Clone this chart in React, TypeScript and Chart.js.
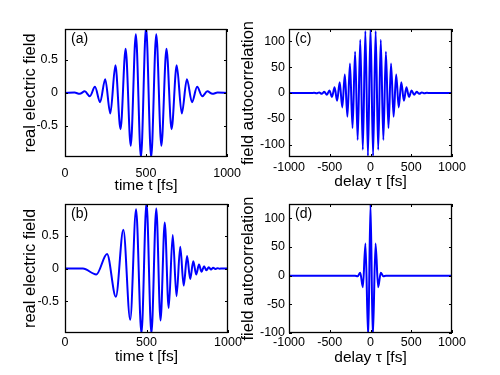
import React, { useEffect, useRef } from "react";
import { Chart, registerables } from "chart.js";

Chart.register(...registerables);
Chart.defaults.font.family = '"Liberation Sans", Arial, Helvetica, sans-serif';
Chart.defaults.color = "#000";

// ---------- data ----------
// (a) real electric field: extrema of the oscillation, time in fs
const timeA = [0, 59, 90.5, 122, 153.5, 185, 216.5, 248, 279.5, 311, 342.5, 374, 405.5, 437, 468.5, 500, 531.5, 563, 594.5, 626, 657.5, 689, 720.5, 752, 783.5, 815, 846.5, 878, 909.5, 941, 1000];
const fieldA = [0, 0.006, -0.012, 0.025, -0.05, 0.095, -0.14, 0.21, -0.31, 0.42, -0.55, 0.67, -0.8, 0.89, -0.98, 1.0, -0.98, 0.89, -0.8, 0.67, -0.55, 0.42, -0.31, 0.21, -0.14, 0.095, -0.05, 0.025, -0.012, 0.006, 0];

// (b) real electric field, chirped pulse
const timeB = [0, 110, 192, 258, 312, 358, 400, 436, 469, 500, 530, 560, 586, 612, 636, 661, 684, 707, 728, 749, 768, 787, 805, 822, 838, 853, 868, 882, 896, 909, 922, 935, 948, 965, 1000];
const fieldB = [0, 0, -0.09, 0.22, -0.43, 0.59, -0.78, 0.9, -0.99, 1.0, -0.99, 0.91, -0.79, 0.7, -0.6, 0.51, -0.42, 0.33, -0.26, 0.19, -0.16, 0.11, -0.09, 0.06, -0.05, 0.035, -0.028, 0.02, -0.015, 0.01, -0.007, 0.005, -0.003, 0, 0];

// (c) field autocorrelation of (a), delay in fs
const delayC = [-1000, -760, -724.5, -693, -661.5, -630, -598.5, -567, -535.5, -504, -472.5, -441, -409.5, -378, -346.5, -315, -283.5, -252, -220.5, -189, -157.5, -126, -94.5, -63, -31.5, 0, 31.5, 63, 94.5, 126, 157.5, 189, 220.5, 252, 283.5, 315, 346.5, 378, 409.5, 441, 472.5, 504, 535.5, 567, 598.5, 630, 661.5, 693, 724.5, 760, 1000];
const acfC = [0, 0, -0.15, 0.35, -0.6, 1, -1.5, 2.3, -3.5, 5, -7.5, 11, -15, 21, -28, 36, -46, 57, -68, 80, -91, 103, -110, 120, -122, 127, -122, 120, -110, 103, -91, 80, -68, 57, -46, 36, -28, 21, -15, 11, -7.5, 5, -3.5, 2.3, -1.5, 1, -0.6, 0.35, -0.15, 0, 0];

// (d) field autocorrelation of (b)
const delayD = [-1000, -190, -158, -126, -94, -62, -28, 0, 28, 62, 94, 126, 158, 190, 1000];
const acfD = [0, 0, -1, 5, -20, 56, -108, 126, -108, 56, -20, 5, -1, 0, 0];

// tick labels
const timeTicks = [0, 500, 1000];
const delayTicks = [-1000, -500, 0, 500, 1000];
const fieldTicks = [-0.5, 0, 0.5];
const acfTicks = [-100, -50, 0, 50, 100];

// ---------- drawing ----------
const boxPlugin = {
  id: "matlabBox",
  afterDraw(chart: any) {
    const { ctx, chartArea } = chart;
    const l = Math.round(chartArea.left), t = Math.round(chartArea.top);
    const r = Math.round(chartArea.right), b = Math.round(chartArea.bottom);
    const xs = chart.scales.x, ys = chart.scales.y;
    ctx.save();
    ctx.strokeStyle = "#000";
    ctx.lineWidth = 1;
    ctx.beginPath();
    const tl = 3;
    xs.ticks.forEach((tk: any) => {
      const p = Math.round(xs.getPixelForValue(tk.value)) + 0.5;
      ctx.moveTo(p, b); ctx.lineTo(p, b - tl);
      ctx.moveTo(p, t); ctx.lineTo(p, t + tl);
    });
    ys.ticks.forEach((tk: any) => {
      const p = Math.round(ys.getPixelForValue(tk.value)) + 0.5;
      ctx.moveTo(l, p); ctx.lineTo(l + tl, p);
      ctx.moveTo(r, p); ctx.lineTo(r - tl, p);
    });
    ctx.stroke();
    ctx.lineWidth = 1.3;
    ctx.strokeRect(l + 0.5, t + 0.5, r - l - 1, b - t - 1);
    const label = chart.options.plugins.matlabBox?.label;
    if (label) {
      ctx.fillStyle = "#000";
      ctx.font = '14px "Liberation Sans", Arial, sans-serif';
      ctx.textBaseline = "top";
      ctx.textAlign = "left";
      ctx.fillText(label, l + 6, t + 3);
    }
    ctx.restore();
  },
};

type PanelProps = {
  xs: number[]; ys: number[];
  xMin: number; xMax: number; yMin: number; yMax: number;
  xTicks: number[]; yTicks: number[];
  xTitle: string; yTitle: string; label: string;
  left: number; top: number; w: number; h: number;
  yW: number; xH: number; padT: number; padR: number;
  xTickPad: number; yTickPad: number; xTitlePad: number; yTitlePad: number;
};

function Panel(p: PanelProps) {
  const ref = useRef<HTMLCanvasElement>(null);
  useEffect(() => {
    const chart = new Chart(ref.current as HTMLCanvasElement, {
      type: "line",
      data: {
        datasets: [{
          data: p.xs.map((x, i) => ({ x, y: p.ys[i] })),
          borderColor: "#0000ff",
          borderWidth: 2,
          pointRadius: 0,
          cubicInterpolationMode: "monotone",
          clip: 0,
          fill: false,
        } as any],
      },
      options: {
        animation: false,
        responsive: false,
        maintainAspectRatio: false,
        devicePixelRatio: 1,
        events: [],
        layout: { padding: { left: 0, top: p.padT, right: p.padR, bottom: 0 } },
        elements: { line: { capBezierPoints: false } },
        plugins: {
          legend: { display: false },
          tooltip: { enabled: false },
          matlabBox: { label: p.label },
        } as any,
        scales: {
          x: {
            type: "linear", min: p.xMin, max: p.xMax,
            afterBuildTicks: (s: any) => { s.ticks = p.xTicks.map((v) => ({ value: v })); },
            afterFit: (s: any) => { s.height = p.xH; },
            grid: { display: false, drawTicks: false },
            border: { display: false },
            ticks: { padding: p.xTickPad, font: { size: 12.5 }, color: "#000", maxRotation: 0, autoSkip: false, callback: (v: any) => String(v) },
            title: { display: true, text: p.xTitle, color: "#000", font: { size: 15.5 }, padding: { top: 0, bottom: p.xTitlePad } },
          },
          y: {
            type: "linear", min: p.yMin, max: p.yMax,
            afterBuildTicks: (s: any) => { s.ticks = p.yTicks.map((v) => ({ value: v })); },
            afterFit: (s: any) => { s.width = p.yW; },
            grid: { display: false, drawTicks: false },
            border: { display: false },
            ticks: { padding: p.yTickPad, font: { size: 12.5 }, color: "#000", autoSkip: false, callback: (v: any) => String(v) },
            title: { display: true, text: p.yTitle, color: "#000", font: { size: 16.5 }, padding: { top: p.yTitlePad, bottom: 0 } },
          },
        },
      } as any,
      plugins: [boxPlugin as any],
    });
    return () => chart.destroy();
  }, []);
  return (
    <canvas
      ref={ref}
      width={p.w}
      height={p.h}
      style={{ position: "absolute", left: p.left, top: p.top, width: p.w, height: p.h }}
    />
  );
}

export default function App() {
  return (
    <div style={{ position: "fixed", left: 0, top: 0, width: 500, height: 375, background: "#fff", overflow: "hidden" }}>
      <Panel xs={timeA} ys={fieldA} xMin={0} xMax={1000} yMin={-0.97} yMax={0.97}
        xTicks={timeTicks} yTicks={fieldTicks} xTitle="time t [fs]" yTitle="real electric field" label="(a)"
        left={0} top={0} w={250} h={195} yW={65} xH={38} padT={29} padR={22}
        xTickPad={9} yTickPad={7} xTitlePad={0} yTitlePad={21} />
      <Panel xs={delayC} ys={acfC} xMin={-1000} xMax={1000} yMin={-124} yMax={124}
        xTicks={delayTicks} yTicks={acfTicks} xTitle="delay τ [fs]" yTitle="field autocorrelation" label="(c)"
        left={232} top={0} w={268} h={195} yW={57} xH={38} padT={29} padR={48}
        xTickPad={3} yTickPad={4} xTitlePad={4} yTitlePad={7} />
      <Panel xs={timeB} ys={fieldB} xMin={0} xMax={1000} yMin={-0.98} yMax={0.98}
        xTicks={timeTicks} yTicks={fieldTicks} xTitle="time t [fs]" yTitle="real electric field" label="(b)"
        left={0} top={190} w={250} h={185} yW={65} xH={42} padT={14} padR={22}
        xTickPad={2} yTickPad={6} xTitlePad={9} yTitlePad={21} />
      <Panel xs={delayD} ys={acfD} xMin={-1000} xMax={1000} yMin={-100} yMax={125}
        xTicks={delayTicks} yTicks={acfTicks} xTitle="delay τ [fs]" yTitle="field autocorrelation" label="(d)"
        left={232} top={190} w={268} h={185} yW={57} xH={42} padT={14} padR={48}
        xTickPad={2} yTickPad={4} xTitlePad={8} yTitlePad={7} />
    </div>
  );
}
